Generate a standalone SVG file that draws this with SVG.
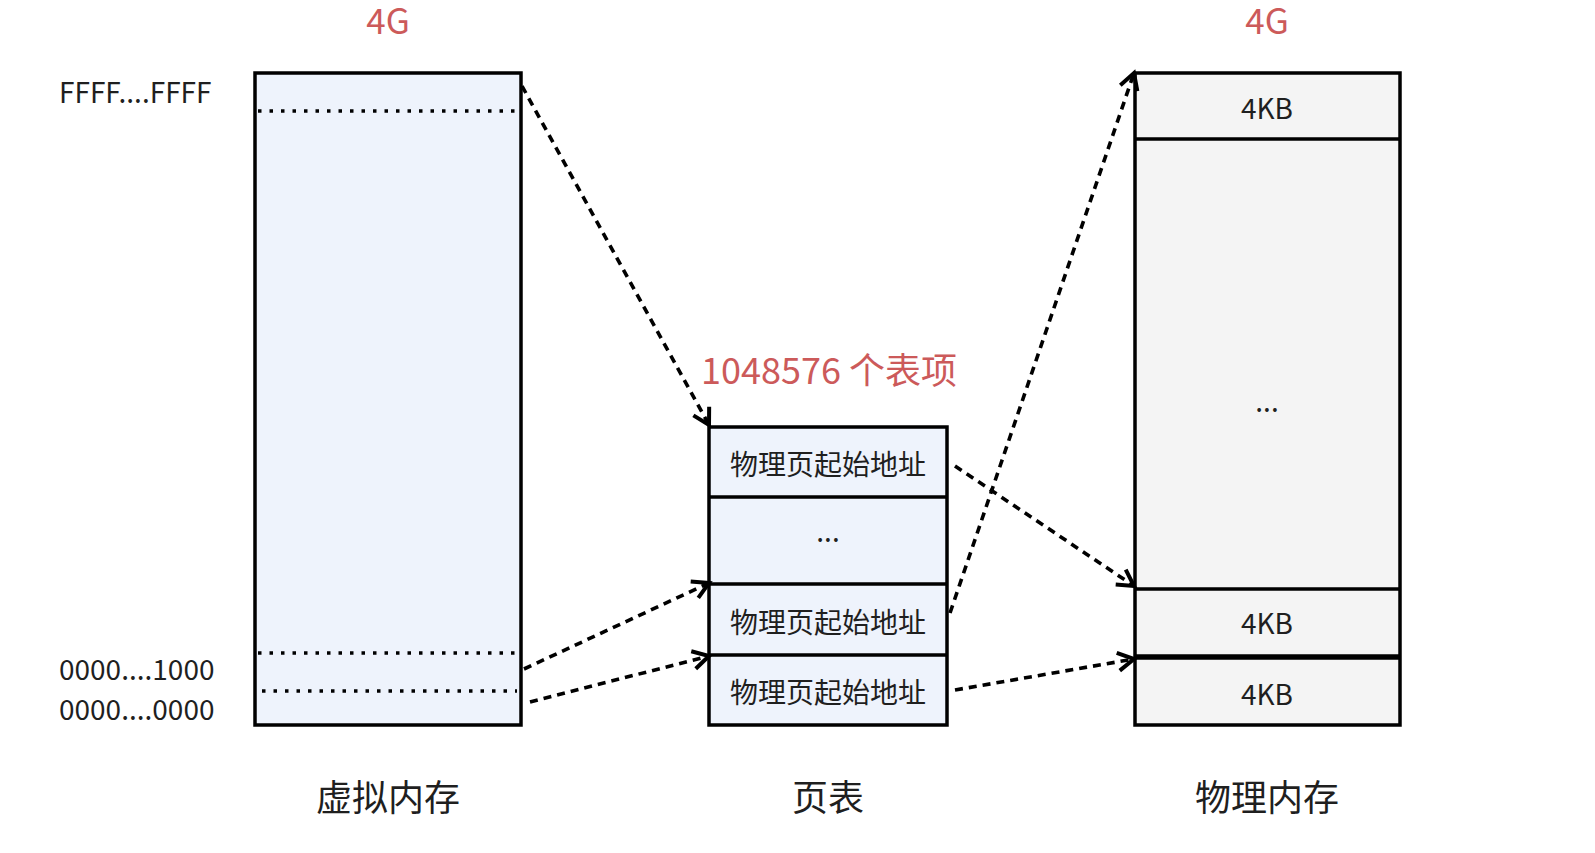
<svg xmlns="http://www.w3.org/2000/svg" width="1595" height="853" viewBox="0 0 1595 853">
<style>
  .t { font-family: "Noto Sans CJK SC", "Noto Sans", sans-serif; fill: #1f1f1f; }
  .red { font-family: "Noto Sans CJK SC", "Noto Sans", sans-serif; fill: #cc5a5a; }
  .box { stroke: #000; stroke-width: 3.5; }
  .vfill { fill: #eef3fc; }
  .pfill { fill: #f4f4f4; }
  .dot { stroke: #000; stroke-width: 3.5; stroke-dasharray: 3.5 8; fill: none; }
  .conn { stroke: #000; stroke-width: 3.6; stroke-dasharray: 8 6; fill: none; marker-end: url(#arr); }
</style>
<defs>
  <marker id="arr" viewBox="0 0 24 24" refX="20" refY="12" markerWidth="24" markerHeight="24" orient="auto" markerUnits="userSpaceOnUse">
    <path d="M4,3 L20,12 L4,21" fill="none" stroke="#000" stroke-width="4"/>
  </marker>
</defs>
<rect width="1595" height="853" fill="#fff"/>

<g id="virtual-memory">
  <rect class="box vfill" x="255" y="73" width="266" height="652"/>
  <line class="dot" x1="258" y1="111" x2="515" y2="111"/>
  <line class="dot" x1="258" y1="653" x2="515" y2="653"/>
  <line class="dot" x1="262" y1="691" x2="517" y2="691"/>
  <text class="red" x="388" y="34" font-size="35" text-anchor="middle">4G</text>
  <text class="t" x="59" y="103" font-size="28">FFFF....FFFF</text>
  <text class="t" x="59" y="680" font-size="28">0000....1000</text>
  <text class="t" x="59" y="720" font-size="28">0000....0000</text>
  <text class="t" x="388" y="811" font-size="36" text-anchor="middle">虚拟内存</text>
</g>

<g id="page-table">
  <rect class="box vfill" x="709" y="427" width="238" height="298"/>
  <line class="box" x1="709" y1="497" x2="947" y2="497"/>
  <line class="box" x1="709" y1="584" x2="947" y2="584"/>
  <line class="box" x1="709" y1="655" x2="947" y2="655"/>
  <text class="t" x="828" y="475" font-size="28" text-anchor="middle">物理页起始地址</text>
  <text class="t" x="828" y="542" font-size="28" text-anchor="middle">...</text>
  <text class="t" x="828" y="633" font-size="28" text-anchor="middle">物理页起始地址</text>
  <text class="t" x="828" y="703" font-size="28" text-anchor="middle">物理页起始地址</text>
  <text class="red" x="829" y="384" font-size="36" text-anchor="middle">1048576 个表项</text>
  <text class="t" x="828" y="811" font-size="36" text-anchor="middle">页表</text>
</g>

<g id="physical-memory">
  <rect class="box pfill" x="1135" y="73" width="265" height="652"/>
  <line class="box" x1="1135" y1="139" x2="1400" y2="139"/>
  <line class="box" x1="1135" y1="589" x2="1400" y2="589"/>
  <line stroke="#000" stroke-width="5.5" x1="1135" y1="657" x2="1400" y2="657"/>
  <text class="t" x="1267" y="119" font-size="28" text-anchor="middle">4KB</text>
  <text class="t" x="1267" y="412" font-size="28" text-anchor="middle">...</text>
  <text class="t" x="1267" y="634" font-size="28" text-anchor="middle">4KB</text>
  <text class="t" x="1267" y="705" font-size="28" text-anchor="middle">4KB</text>
  <text class="red" x="1267" y="34" font-size="35" text-anchor="middle">4G</text>
  <text class="t" x="1267" y="811" font-size="36" text-anchor="middle">物理内存</text>
</g>

<g id="connectors">
  <line class="conn" x1="522" y1="86" x2="709" y2="425"/>
  <line class="conn" x1="524" y1="669" x2="709" y2="583"/>
  <line class="conn" x1="530" y1="702" x2="709" y2="656"/>
  <line class="conn" x1="955" y1="466" x2="1134" y2="586"/>
  <line class="conn" x1="950" y1="613" x2="1134" y2="73"/>
  <line class="conn" x1="955" y1="690" x2="1134" y2="659"/>
</g>
</svg>
